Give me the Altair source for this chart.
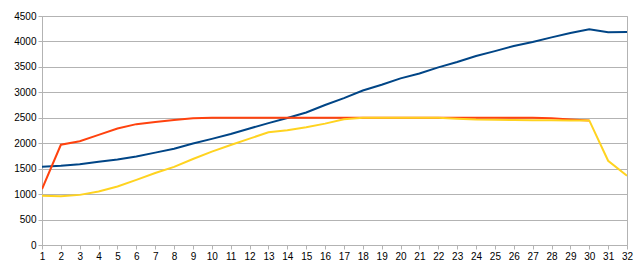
import altair as alt
import pandas as pd

days = list(range(1, 33))
blue = [1540, 1555, 1585, 1635, 1680, 1740, 1815, 1890, 1995, 2085, 2180, 2290, 2395, 2495,
        2605, 2750, 2885, 3035, 3150, 3275, 3370, 3490, 3595, 3715, 3810, 3910, 3990, 4080,
        4165, 4240, 4180, 4185]
red = [1100, 1970, 2040, 2165, 2290, 2375, 2415, 2455, 2490, 2500, 2500, 2500, 2500, 2500,
       2500, 2500, 2500, 2500, 2500, 2500, 2500, 2500, 2500, 2500, 2500, 2500, 2500, 2490,
       2465, 2448, None, None]
yellow = [970, 960, 985, 1050, 1150, 1280, 1415, 1535, 1690, 1835, 1965, 2090, 2215, 2255,
          2315, 2385, 2470, 2500, 2500, 2500, 2500, 2500, 2480, 2465, 2460, 2455, 2452, 2450,
          2448, 2448, 1655, 1360]

df = pd.DataFrame({"day": days, "blue": blue, "red": red, "yellow": yellow})

x = alt.X("day:Q", scale=alt.Scale(domain=[1, 32], nice=False),
          axis=alt.Axis(values=days, title=None, grid=False, labelFlush=False, format="d"))
yax = alt.Axis(values=list(range(0, 4501, 500)), title=None, format="d")

def line(col, color):
    return alt.Chart(df).transform_filter(f"isValid(datum.{col})").mark_line(
        color=color, strokeWidth=2, clip=True
    ).encode(
        x=x,
        y=alt.Y(f"{col}:Q", scale=alt.Scale(domain=[0, 4500], nice=False), axis=yax),
    )

chart = alt.layer(
    line("blue", "#004586"),
    line("red", "#ff420e"),
    line("yellow", "#ffd320"),
).properties(
    width=585, height=229,
    autosize=alt.AutoSizeParams(type="none"),
    padding={"left": 42, "top": 16, "right": 13, "bottom": 34},
    background="white",
).configure_view(stroke="#b3b3b3", strokeWidth=1).configure_axis(
    labelFont="Liberation Sans", labelFontSize=10, labelColor="#000000",
    domainColor="#b3b3b3", tickColor="#b3b3b3", gridColor="#b3b3b3",
    tickSize=4, labelPadding=2,
)

chart.save("out.html", embed_options={"renderer": "svg", "actions": False})
